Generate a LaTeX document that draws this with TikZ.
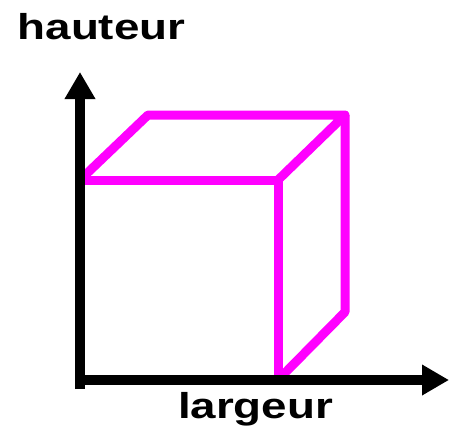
\documentclass[tikz,border=0pt]{standalone}
\usepackage{fontspec}
\usepackage{graphicx}
\setmainfont{Liberation Sans}
\usetikzlibrary{arrows.meta}
\definecolor{rosecube}{RGB}{255,0,255}
\begin{document}
\begin{tikzpicture}[x=1pt,y=-1pt,
    arete/.style={draw=rosecube,line width=9pt,line join=round},
    axe/.style={draw=black,line width=9.5pt,-{Triangle[width=29pt,length=27pt]}},
    etiquette/.style={anchor=base,inner sep=0pt,font=\fontsize{36}{40}\selectfont\bfseries}]
  \useasboundingbox (0,0) rectangle (450,437);

  % Coordonnees des sommets du cube
  \coordinate (A) at (80,380);
  \coordinate (B) at (278,380);
  \coordinate (C) at (278,180);
  \coordinate (D) at (80,180);
  \coordinate (E) at (148,115);
  \coordinate (F) at (345,115);
  \coordinate (G) at (345,312);

  % Aretes du cube
  \draw[arete] (A) -- (D) -- (C) -- (B);
  \draw[arete] (D) -- (E) -- (F) -- (C);
  \draw[arete] (F) -- (G) -- (B);

  % Axes
  \coordinate (O1) at (80,389);
  \coordinate (Y) at (80,72);
  \coordinate (O2) at (75.5,380);
  \coordinate (X) at (449,380);
  \draw[axe] (O1) -- (Y);
  \draw[axe] (O2) -- (X);

  % Etiquettes des axes
  \node[etiquette] (hauteur) at (101.5,39) {\scalebox{1.27}[1]{hauteur}};
  \node[etiquette] (largeur) at (255.5,418) {\scalebox{1.27}[1]{largeur}};
\end{tikzpicture}
\end{document}
